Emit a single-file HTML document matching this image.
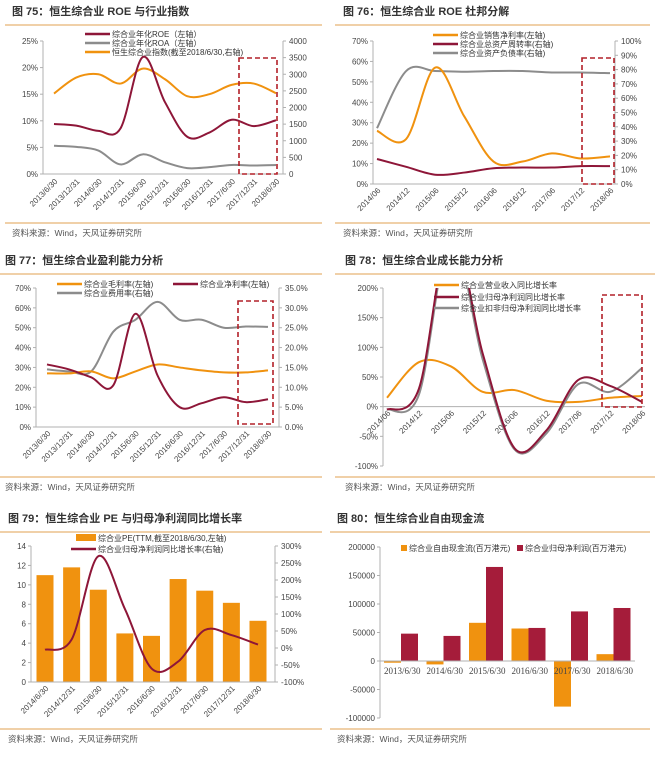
<!DOCTYPE html>
<html><head><meta charset="utf-8">
<style>
body{margin:0;background:#fff;}
svg{display:block;font-family:"Liberation Sans","Noto Sans CJK SC",sans-serif;}
.t{font-size:8px;fill:#444;}
.ti{font-size:11px;font-weight:bold;fill:#333;}
.src{font-size:8.5px;fill:#555;}
.lg{font-size:8px;fill:#333;}
</style></head><body>
<svg id="s" width="655" height="762" viewBox="0 0 655 762">
<defs>
<clipPath id="c78"><rect x="383" y="288" width="262" height="180"/></clipPath>
</defs>
</svg>
<script>
// ---- data ----
const cat75=["2013/6/30","2013/12/31","2014/6/30","2014/12/31","2015/6/30","2015/12/31","2016/6/30","2016/12/31","2017/6/30","2017/12/31","2018/6/30"];
const roe75=[9.4,9.1,8.1,8.6,22,13.5,7.0,7.8,10.2,9.0,10.1];
const roa75=[5.3,5.1,4.4,1.8,3.7,2.2,1.1,1.3,1.7,1.6,1.7];
const idx75=[2420,2900,3000,2720,3170,2850,2340,2400,2680,2720,2430];
const cat76=["2014/06","2014/12","2015/06","2015/12","2016/06","2016/12","2017/06","2017/12","2018/06"];
const npm76=[26,22,57,33,11,11,15,12.5,13.5];
const turn76=[17.5,12,6.5,8,11,11.5,11.5,12.5,12.5];
const lev76=[39,79,79,78.5,79,79,78,78,77.5];
const cat77=cat75;
const gross77=[27,27,28,24.5,28,31.5,30,28.5,27.5,27.5,28.5];
const net77=[31.5,29,25,21,57,26,10,12,15,12.5,14];
const exp77=[14.5,14,14,24,27,31.5,27,27,25,25.3,25.2];
const cat78=cat76;
const rev78=[15,75,68,25,28,10,8,15,18];
const np78=[-5,30,300,90,-70,-40,45,35,8];
const npx78=[-5,20,290,80,-72,-45,38,25,65];
const cat79=["2014/6/30","2014/12/31","2015/6/30","2015/12/31","2016/6/30","2016/12/31","2017/6/30","2017/12/31","2018/6/30"];
const pe79=[11,11.8,9.5,5,4.75,10.6,9.4,8.15,6.3];
const g79=[-5,25,270,115,-60,-40,53,38,10];
const cat80=["2013/6/30","2014/6/30","2015/6/30","2016/6/30","2017/6/30","2018/6/30"];
const fcf80=[-3000,-6000,67000,57000,-80000,12000];
const np80=[48000,44000,165000,58000,87000,93000];

const OR="#f0920f",RD="#8e1638",GY="#8c8c8c",AX="#b0b0b0",BOX="#b22028";
const S=document.getElementById('s');
function el(tag,attrs,parent){const e=document.createElementNS("http://www.w3.org/2000/svg",tag);for(const k in attrs)e.setAttribute(k,attrs[k]);(parent||S).appendChild(e);return e;}
function txt(x,y,s,cls,anchor,parent){const e=el('text',{x:x,y:y,class:cls,'text-anchor':anchor||'start'},parent);e.textContent=s;return e;}
function lin(y0v,y1v,p0,p1){return v=>p0+(v-y0v)*(p1-p0)/(y1v-y0v);}
function smooth(pts){let d="M"+pts[0][0]+","+pts[0][1];for(let i=0;i<pts.length-1;i++){const p0=pts[i-1]||pts[i],p1=pts[i],p2=pts[i+1],p3=pts[i+2]||p2;const c1=[p1[0]+(p2[0]-p0[0])/6,p1[1]+(p2[1]-p0[1])/6],c2=[p2[0]-(p3[0]-p1[0])/6,p2[1]-(p3[1]-p1[1])/6];d+=` C${c1[0]},${c1[1]} ${c2[0]},${c2[1]} ${p2[0]},${p2[1]}`;}return d;}
function series(g,xs,vals,yf,color,name,w){const p=el('path',{d:smooth(vals.map((v,i)=>[xs[i],yf(v)])),fill:'none',stroke:color,'stroke-width':w||2},g);return p;}
function frame(x,y,title,ruleX0,ruleX1,bottomY,name){
  const g=el('g',{});
  const t=txt(x,y,title,'ti','start',g);
  el('line',{x1:ruleX0,x2:ruleX1,y1:y+10,y2:y+10,stroke:'#e0a050','stroke-width':1},g);
  el('line',{x1:ruleX0,x2:ruleX1,y1:bottomY,y2:bottomY,stroke:'#e0a050','stroke-width':1},g);
  const s=txt(x,bottomY+13,'资料来源：Wind，天风证券研究所','src','start',g);
  return g;}
function yaxis(g,x,ticks,yf,fmt,side){el('line',{x1:x,x2:x,y1:yf(ticks[ticks.length-1]),y2:yf(ticks[0]),stroke:AX},g);
  ticks.forEach(v=>{const y=yf(v);el('line',{x1:side=='l'?x-3:x,x2:side=='l'?x:x+3,y1:y,y2:y,stroke:AX},g);txt(side=='l'?x-5:x+6,y+3,fmt(v),'t',side=='l'?'end':'start',g);});}
function xlabels(g,xs,cats,y){cats.forEach((c,i)=>{const t=txt(0,0,c,'t','end',g);t.setAttribute('transform',`translate(${xs[i]+4},${y}) rotate(-45)`);});}
function legendLine(g,x,y,color,label,name){const gg=el('g',{},g);el('line',{x1:x,x2:x+25,y1:y,y2:y,stroke:color,'stroke-width':2.5},gg);txt(x+27,y+3,label,'lg','start',gg);}
function box(g,x0,y0,x1,y1){const r=el('rect',{x:x0,y:y0,width:x1-x0,height:y1-y0,fill:'none',stroke:BOX,'stroke-width':1.6,'stroke-dasharray':'5,3'},g);}
const range=(a,b,s)=>{const r=[];for(let v=a;v<=b+1e-9;v+=s)r.push(+v.toFixed(6));return r;};
const spread=(n,a,b)=>Array.from({length:n},(_,i)=>a+i*(b-a)/(n-1));

// ---- chart 75 ----
{const g=frame(12,15,'图 75：恒生综合业 ROE 与行业指数',5,322,223,'chart-75');
 const yl=lin(0,25,174,41),yr=lin(0,4000,174,41),xs=spread(cat75.length,54,276);
 el('line',{x1:43,x2:283,y1:174,y2:174,stroke:AX},g);
 yaxis(g,43,range(0,25,5),yl,v=>v+'%','l');yaxis(g,283,range(0,4000,500),yr,v=>v,'r');
 xlabels(g,xs,cat75,182);
 series(g,xs,idx75,yr,OR,'index-line');series(g,xs,roa75,yl,GY,'roa-line');series(g,xs,roe75,yl,RD,'roe-line');
 box(g,239,58,277,174);
 legendLine(g,85,34,RD,'综合业年化ROE（左轴）','legend-roe');legendLine(g,85,43,GY,'综合业年化ROA（左轴）','legend-roa');legendLine(g,85,52,OR,'恒生综合业指数(截至2018/6/30,右轴)','legend-index');}

// ---- chart 76 ----
{const g=frame(343,15,'图 76：恒生综合业 ROE 杜邦分解',335,650,223,'chart-76');
 const yl=lin(0,70,184,41),yr=lin(0,100,184,41),xs=spread(cat76.length,377,610);
 el('line',{x1:373,x2:615,y1:184,y2:184,stroke:AX},g);
 yaxis(g,373,range(0,70,10),yl,v=>v+'%','l');yaxis(g,615,range(0,100,10),yr,v=>v+'%','r');
 xlabels(g,xs,cat76,191);
 series(g,xs,lev76,yr,GY,'leverage-line');series(g,xs,turn76,yr,RD,'turnover-line');series(g,xs,npm76,yl,OR,'net-margin-line');
 box(g,582,58,614,184);
 legendLine(g,433,35,OR,'综合业销售净利率(左轴)','legend-margin');legendLine(g,433,44,RD,'综合业总资产周转率(右轴)','legend-turnover');legendLine(g,433,53,GY,'综合业资产负债率(右轴)','legend-leverage');}

// ---- chart 77 ----
{const g=frame(5,264,'图 77：恒生综合业盈利能力分析',0,322,477,'chart-77');
 const yl=lin(0,70,427,288),yr=lin(0,35,427,288),xs=spread(cat77.length,47,268);
 el('line',{x1:36,x2:279,y1:427,y2:427,stroke:AX},g);
 yaxis(g,36,range(0,70,10),yl,v=>v+'%','l');yaxis(g,279,range(0,35,5),yr,v=>v.toFixed(1)+'%','r');
 xlabels(g,xs,cat77,434);
 series(g,xs,exp77,yr,GY,'expense-line');series(g,xs,gross77,yl,OR,'gross-margin-line');series(g,xs,net77,yl,RD,'net-margin-line');
 box(g,238,301,273,424);
 legendLine(g,57,284,OR,'综合业毛利率(左轴)','legend-gross');legendLine(g,173,284,RD,'综合业净利率(左轴)','legend-net');legendLine(g,57,293,GY,'综合业费用率(右轴)','legend-expense');}

// ---- chart 78 ----
{const g=frame(345,264,'图 78：恒生综合业成长能力分析',335,655,477,'chart-78');
 const yl=lin(-100,200,466,288),xs=spread(cat78.length,387,642);
 yaxis(g,383,range(-100,200,50),yl,v=>v+'%','l');
 el('line',{x1:383,x2:645,y1:yl(0),y2:yl(0),stroke:AX},g);
 xlabels(g,xs,cat78,yl(0)+7);
 const cg=el('g',{'clip-path':'url(#c78)'},g);
 series(cg,xs,rev78,yl,OR,'revenue-growth-line');series(cg,xs,npx78,yl,GY,'np-ex-growth-line');series(cg,xs,np78,yl,RD,'np-growth-line');
 box(g,602,295,642,407);
 legendLine(g,434,285,OR,'综合业营业收入同比增长率','legend-revenue');legendLine(g,434,297,RD,'综合业归母净利润同比增长率','legend-np');legendLine(g,434,308,GY,'综合业扣非归母净利润同比增长率','legend-np-ex');}

// ---- chart 79 ----
{const g=frame(8,522,'图 79：恒生综合业 PE 与归母净利润同比增长率',0,322,729,'chart-79');
 const yl=lin(0,14,682,546),yr=lin(-100,300,682,546),xs=spread(cat79.length,45,258);
 pe79.forEach((v,i)=>{const r=el('rect',{x:xs[i]-8.5,y:yl(v),width:17,height:yl(0)-yl(v),fill:OR},g);});
 el('line',{x1:31,x2:275,y1:682,y2:682,stroke:AX},g);
 yaxis(g,31,range(0,14,2),yl,v=>v,'l');yaxis(g,275,range(-100,300,50),yr,v=>v+'%','r');
 xlabels(g,xs,cat79,689);
 series(g,xs,g79,yr,RD,'np-growth-line');
 const lb=el('g',{},g);
 el('rect',{x:76,y:534,width:20,height:7,fill:OR},lb);txt(98,541,'综合业PE(TTM,截至2018/6/30,左轴)','lg','start',lb);
 legendLine(g,71,549,RD,'综合业归母净利润同比增长率(右轴)','legend-growth');}

// ---- chart 80 ----
{const g=frame(337,522,'图 80：恒生综合业自由现金流',330,650,729,'chart-80');
 const yl=lin(-100000,200000,718,547),gw=(635-380)/cat80.length;
 yaxis(g,380,range(-100000,200000,50000),yl,v=>v,'l');
 cat80.forEach((c,i)=>{const x0=380+i*gw;
   const a=el('rect',{x:x0+4,y:Math.min(yl(0),yl(fcf80[i])),width:17,height:Math.abs(yl(0)-yl(fcf80[i])),fill:OR},g);
   const b=el('rect',{x:x0+21,y:Math.min(yl(0),yl(np80[i])),width:17,height:Math.abs(yl(0)-yl(np80[i])),fill:'#a51c3a'},g);
   txt(x0+gw/2+1,yl(0)+13,c,'t','middle',g).setAttribute('style','font-family:"Liberation Serif",serif;font-size:9px');});
 el('line',{x1:380,x2:635,y1:yl(0),y2:yl(0),stroke:AX},g);
 const l1=el('g',{},g);
 el('rect',{x:401,y:545,width:6,height:6,fill:OR},l1);txt(409,551,'综合业自由现金流(百万港元)','lg','start',l1);
 const l2=el('g',{},g);
 el('rect',{x:517,y:545,width:6,height:6,fill:'#a51c3a'},l2);txt(525,551,'综合业归母净利润(百万港元)','lg','start',l2);}
</script>
</body></html>
